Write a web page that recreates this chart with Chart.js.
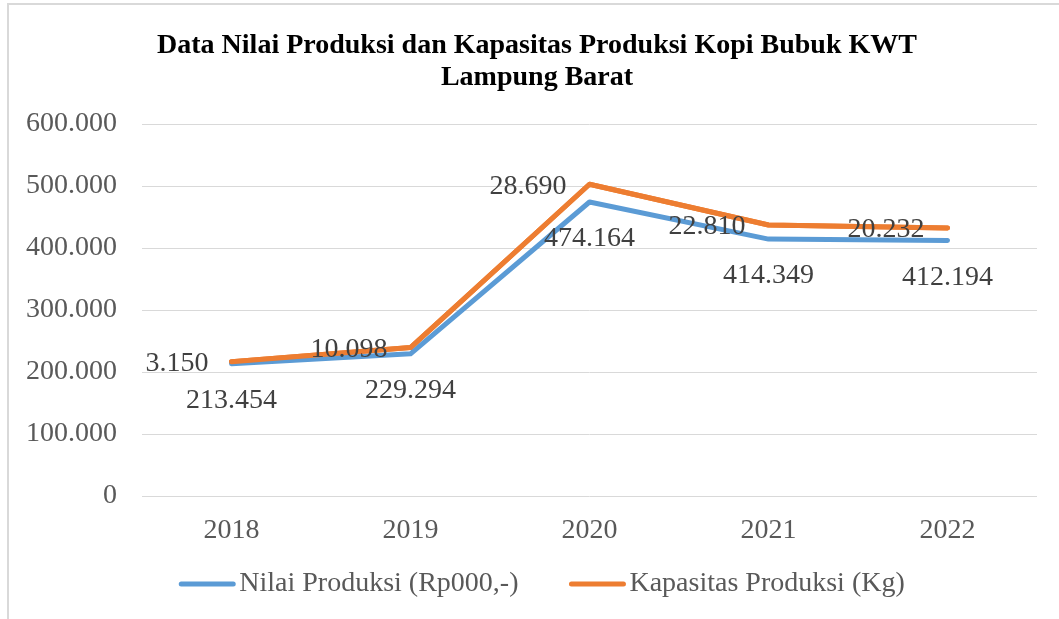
<!DOCTYPE html>
<html>
<head>
<meta charset="utf-8">
<title>Data Nilai Produksi dan Kapasitas Produksi Kopi Bubuk KWT Lampung Barat</title>
<script src="https://cdn.jsdelivr.net/npm/chart.js@4.4.0/dist/chart.umd.min.js"></script>
<style>
    html, body { margin: 0; padding: 0; background: #fff; }
    #wrap { width: 1059px; height: 619px; position: relative; }
</style>
</head>
<body>
<div id="wrap"><canvas id="lineChart"></canvas></div>
<script>
    // data (stacked line: orange sits on top of blue)
    const years = ['2018', '2019', '2020', '2021', '2022'];
    const nilai_produksi = [213454, 229294, 474164, 414349, 412194];
    const kapasitas_produksi = [3150, 10098, 28690, 22810, 20232];
    const y_max = 600000;
    const y_step = 100000;
    const title_lines = ['Data Nilai Produksi dan Kapasitas Produksi Kopi Bubuk KWT', 'Lampung Barat'];

    const serif = '"Liberation Serif", "Times New Roman", serif';

    // 600000 -> "600.000"
    function fmtDot(n) {
        return String(n).replace(/\B(?=(\d{3})+(?!\d))/g, '.');
    }

    // light grey frame of the chart object (cropped on right / bottom) + title
    const frameAndTitle = {
        id: 'frameAndTitle',
        beforeDraw(chart) {
            const ctx = chart.ctx;
            ctx.save();
            ctx.strokeStyle = '#d9d9d9';
            ctx.lineWidth = 2;
            ctx.beginPath();
            ctx.moveTo(8, 619);
            ctx.lineTo(8, 4);
            ctx.lineTo(1059, 4);
            ctx.stroke();
            ctx.font = 'bold 28px ' + serif;
            ctx.fillStyle = '#000';
            ctx.textAlign = 'center';
            ctx.textBaseline = 'middle';
            title_lines.forEach((t, i) => ctx.fillText(t, 537, 46 + i * 32));
            ctx.restore();
        }
    };

    const valueLabels = {
        id: 'valueLabels',
        afterDatasetsDraw(chart) {
            // excel paints the second series above the first one
            chart.getDatasetMeta(1).controller.draw();
            const ctx = chart.ctx;
            ctx.save();
            ctx.font = '28px ' + serif;
            ctx.fillStyle = '#404040';
            ctx.textBaseline = 'middle';
            ctx.textAlign = 'center';
            chart.getDatasetMeta(0).data.forEach((pt, i) => {
                ctx.fillText(fmtDot(nilai_produksi[i]), pt.x, pt.y + 37);
            });
            ctx.textAlign = 'right';
            chart.getDatasetMeta(1).data.forEach((pt, i) => {
                ctx.fillText(fmtDot(kapasitas_produksi[i]), pt.x - 23, pt.y + 2);
            });
            ctx.restore();
        }
    };

    // excel style legend: short thick line, text right next to it
    const lineLegend = {
        id: 'lineLegend',
        afterDraw(chart) {
            const ctx = chart.ctx;
            const sets = chart.data.datasets;
            const lineLen = 56, gap = 4, itemGap = 51, y = 584;
            ctx.save();
            ctx.font = '28px ' + serif;
            const widths = sets.map(ds => ctx.measureText(ds.label).width);
            let total = 0;
            widths.forEach((w, i) => { total += lineLen + gap + w + (i > 0 ? itemGap : 0); });
            let x = 542 - total / 2;
            sets.forEach((ds, i) => {
                ctx.strokeStyle = ds.borderColor;
                ctx.lineWidth = 5;
                ctx.lineCap = 'round';
                ctx.beginPath();
                ctx.moveTo(x + 2, y);
                ctx.lineTo(x + lineLen - 2, y);
                ctx.stroke();
                ctx.fillStyle = '#595959';
                ctx.textAlign = 'left';
                ctx.textBaseline = 'middle';
                ctx.fillText(ds.label, x + lineLen + gap, y);
                x += lineLen + gap + widths[i] + itemGap;
            });
            ctx.restore();
        }
    };

    document.addEventListener('DOMContentLoaded', function () {
        let ctx = document.getElementById('lineChart').getContext('2d');
        const config = {
            type: 'line',
            data: {
                labels: years,
                datasets: [{
                    label: 'Nilai Produksi (Rp000,-)',
                    data: nilai_produksi,
                    borderColor: '#5b9bd5',
                    backgroundColor: '#5b9bd5',
                    borderWidth: 5,
                    borderCapStyle: 'round',
                    borderJoinStyle: 'round',
                    radius: 0,
                    tension: 0
                }, {
                    label: 'Kapasitas Produksi (Kg)',
                    data: kapasitas_produksi,
                    borderColor: '#ed7d31',
                    backgroundColor: '#ed7d31',
                    borderWidth: 5,
                    borderCapStyle: 'round',
                    borderJoinStyle: 'round',
                    radius: 0,
                    tension: 0
                }]
            },
            options: {
                responsive: true,
                maintainAspectRatio: false,
                animation: false,
                events: [],
                layout: { padding: { left: 0, right: 22, top: 124, bottom: 74 } },
                plugins: {
                    title: { display: false },
                    legend: { display: false },
                    tooltip: { enabled: false }
                },
                scales: {
                    x: {
                        offset: true,
                        grid: { display: false },
                        border: { display: false },
                        ticks: {
                            color: '#595959',
                            font: { family: serif, size: 28 },
                            padding: 10,
                            maxRotation: 0
                        },
                        afterFit(scale) { scale.height = 49; }
                    },
                    y: {
                        stacked: true,
                        min: 0,
                        max: y_max,
                        grid: { color: '#d9d9d9', lineWidth: 1, drawTicks: false },
                        border: { display: false },
                        ticks: {
                            stepSize: y_step,
                            color: '#595959',
                            font: { family: serif, size: 28 },
                            padding: 25,
                            callback: (v) => fmtDot(v)
                        },
                        afterFit(scale) { scale.width = 142; }
                    }
                }
            },
            plugins: [frameAndTitle, valueLabels, lineLegend]
        };
        new Chart(ctx, config);
    });
</script>
</body>
</html>
